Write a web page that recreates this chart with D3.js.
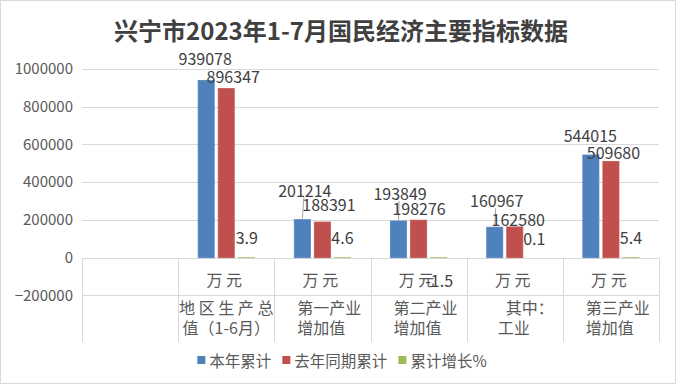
<!DOCTYPE html>
<html>
<head>
<meta charset="utf-8">
<script src="https://cdn.jsdelivr.net/npm/d3@7"></script>
<style>
  body { margin: 0; background: #fff; }
  svg { display: block; font-family: "Noto Sans CJK SC", "Noto Sans", sans-serif; }
</style>
</head>
<body>
<div id="chart"></div>
<script>
// data
const categories = ["", "地区生产总值（1-6月）", "第一产业增加值", "第二产业增加值", "其中：工业", "第三产业增加值"];
const categoryLines = [[], ["地 区 生 产 总", "值（1-6月）"], ["第一产业", "增加值"], ["第二产业", "增加值"], ["\u3000其中：", "\u2002工业"], ["第三产业", "增加值"]];
const units = ["", "万 元", "万 元", "万 元", "万 元", "万 元"];
const seriesNames = ["本年累计", "去年同期累计", "累计增长%"];
const thisYear = [null, 939078, 201214, 193849, 160967, 544015];
const lastYear = [null, 896347, 188391, 198276, 162580, 509680];
const growth = [null, 3.9, 4.6, -1.5, 0.1, 5.4];
const yTicks = [-200000, 0, 200000, 400000, 600000, 800000, 1000000];

// label nudges (label centre relative to bar end), one row per series
const labelOffsets = [
  [null, [-1, -22], [2.5, -30], [1.5, -28], [2, -27], [-0.5, -20]],
  [null, [7, -13], [6.5, -18], [0.5, -12], [3.5, -8], [2.5, -9]],
  [null, [0.5, -21], [0, -21], [0.5, 22], [-0.5, -20], [0, -21]]
];

const colors = ["#4f81bd", "#c0504d", "#9bbb59"];
const width = 680, height = 386;

const svg = d3.select("#chart").append("svg")
  .attr("width", width)
  .attr("height", height);

svg.append("rect")
  .attr("x", 0.5).attr("y", 0.5)
  .attr("width", 675).attr("height", 383)
  .attr("fill", "#fff")
  .attr("stroke", "#d9d9d9");

svg.append("text")
  .attr("x", 341).attr("y", 29)
  .attr("text-anchor", "middle")
  .attr("dominant-baseline", "central")
  .attr("font-size", 24)
  .attr("font-weight", "bold")
  .attr("fill", "#404040")
  .text("兴宁市2023年1-7月国民经济主要指标数据");

const x0 = d3.scaleBand().domain(d3.range(categories.length)).range([82, 659]).padding(0);
const bw = x0.bandwidth();
const x1 = d3.scaleBand().domain(d3.range(seriesNames.length)).range([20, bw - 20]).paddingInner(0.2).paddingOuter(0);
const y = d3.scaleLinear().domain([-200000, 1000000]).range([295.3, 69]);

// gridlines
svg.append("g").selectAll("line")
  .data(yTicks)
  .join("line")
    .attr("x1", 82).attr("x2", 659)
    .attr("y1", d => Math.round(y(d)) + 0.5)
    .attr("y2", d => Math.round(y(d)) + 0.5)
    .attr("stroke", "#d9d9d9");

// y labels
const yAxis = svg.append("g")
  .attr("transform", "translate(73,0)")
  .call(d3.axisLeft(y).tickValues(yTicks).tickSize(0).tickPadding(0).tickFormat(d3.format("d")));
yAxis.select(".domain").remove();
yAxis.selectAll("text")
  .attr("font-size", 15)
  .attr("font-family", "\"Noto Sans CJK SC\", sans-serif")
  .attr("fill", "#595959");

// category table lines
const tableTop = Math.round(y(0)) + 0.5, tableBottom = 342;
const bounds = d3.range(categories.length).map(i => x0(i)).concat([659]);
svg.append("g").selectAll("line")
  .data(bounds)
  .join("line")
    .attr("x1", d => Math.round(d) + 0.5).attr("x2", d => Math.round(d) + 0.5)
    .attr("y1", tableTop).attr("y2", tableBottom)
    .attr("stroke", "#d9d9d9");

// unit row
svg.append("g").selectAll("text")
  .data(units)
  .join("text")
    .attr("x", (d, i) => x0(i) + bw / 2 - 2)
    .attr("y", 279)
    .attr("text-anchor", "middle")
    .attr("dominant-baseline", "central")
    .attr("font-size", 16)
    .attr("fill", "#595959")
    .text(d => d);

// category names (wrapped lines)
const catG = svg.append("g");
categoryLines.forEach((lines, i) => {
  lines.forEach((line, j) => {
    const t = catG.append("text")
      .attr("y", 307 + j * 20)
      .attr("dominant-baseline", "central")
      .attr("font-size", 16)
      .attr("fill", "#595959")
      .style("white-space", "pre")
      .text(line);
    const w = t.node().getComputedTextLength();
    const pad = 23;
    if (pad + w > bw - 2) t.attr("x", x0(i) + bw / 2 - w / 2);
    else t.attr("x", x0(i) + pad);
  });
});

// bars
const series = [thisYear, lastYear, growth];
const bars = [];
series.forEach((vals, s) => {
  vals.forEach((v, i) => {
    if (v === null) return;
    bars.push({s, i, v});
  });
});

svg.append("g").selectAll("rect")
  .data(bars)
  .join("rect")
    .attr("x", d => x0(d.i) + x1(d.s))
    .attr("y", d => Math.min(y(d.v), y(0)))
    .attr("width", x1.bandwidth())
    .attr("height", d => Math.abs(y(d.v) - y(0)))
    .attr("fill", d => colors[d.s])
    .attr("stroke", d => colors[d.s])
    .attr("stroke-opacity", d => d.s === 2 && Math.abs(d.v) < 1 ? 0 : 0.8)
    .attr("stroke-width", 1);

// data labels
const lbl = svg.append("g");
bars.forEach(d => {
  const off = labelOffsets[d.s][d.i];
  const bx = x0(d.i) + x1(d.s) + x1.bandwidth() / 2;
  const by = d.v >= 0 ? y(d.v) : y(0);
  const lx = bx + off[0], ly = by + off[1];
  if (off[1] < -25) {
    lbl.append("line")
      .attr("x1", lx - 1).attr("y1", ly + 8)
      .attr("x2", bx).attr("y2", by - 1)
      .attr("stroke", "#a6a6a6");
  }
  lbl.append("text")
    .attr("x", lx).attr("y", ly)
    .attr("text-anchor", "middle")
    .attr("dominant-baseline", "central")
    .attr("font-size", 16)
    .attr("fill", "#404040")
    .text(d.v);
});

// legend
const legend = svg.append("g");
let lxPos = 0;
const items = [];
seriesNames.forEach((name, s) => {
  const g = legend.append("g").attr("transform", `translate(${lxPos},0)`);
  g.append("rect").attr("x", 0).attr("y", -4).attr("width", 8).attr("height", 8).attr("fill", colors[s]);
  const t = g.append("text")
    .attr("x", 12).attr("y", 0)
    .attr("dominant-baseline", "central")
    .attr("font-size", 15.5)
    .attr("fill", "#595959")
    .text(name);
  lxPos += 12 + t.node().getComputedTextLength() + 11;
});
const legendW = lxPos - 11;
legend.attr("transform", `translate(${342 - legendW / 2},360)`);
</script>
</body>
</html>
